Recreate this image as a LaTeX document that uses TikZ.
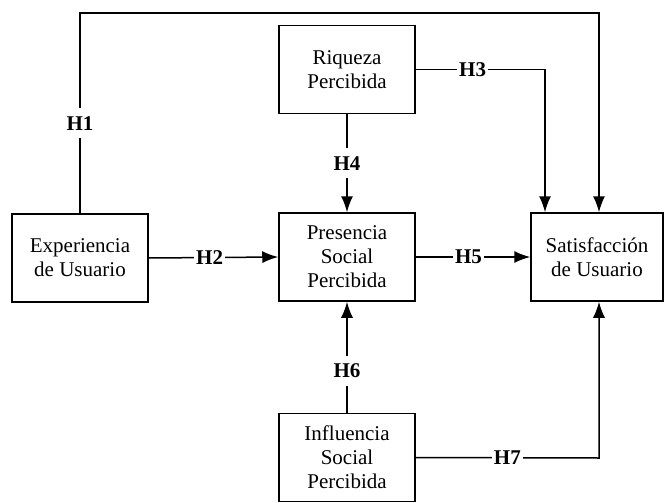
\documentclass[tikz,border=0pt]{standalone}
\usepackage{fontspec}
\setmainfont{Liberation Serif}
\usetikzlibrary{arrows.meta,positioning}
\tikzset{>={Latex[length=8pt,width=6pt]}}
\tikzset{caja/.style={draw, line width=0.75pt, minimum width=68pt,
    minimum height=44pt, align=center, inner sep=0pt,
    font=\fontsize{10.5}{12}\selectfont}}
\tikzset{hip/.style={fill=white, inner xsep=1pt, inner ysep=4pt,
    font=\fontsize{10.5}{12}\selectfont\bfseries}}
\tikzset{flecha/.style={->, line width=0.75pt}}

\begin{document}
\begin{tikzpicture}[x=0.5pt, y=-0.5pt]
  \useasboundingbox (0,0) rectangle (664,503);
  \node[caja] (riq) at (347,69.5) {Riqueza\\Percibida}; %
  \node[caja] (exp) at (80,258) {Experiencia\\de Usuario}; %
  \node[caja] (pre) at (347,257) {Presencia\\Social\\Percibida}; %
  \node[caja, minimum width=66pt] (sat) at (597,257) {Satisfacción\\de Usuario}; %
  \node[caja] (inf) at (347,457.5) {Influencia\\Social\\Percibida}; %
  \coordinate (h1a) at (80,13); %
  \coordinate (h1b) at (599,13); %
  \coordinate (h3) at (545,69.5); %
  \coordinate (h7) at (599,458); %
  \draw[flecha] (exp.north) -- node[hip, pos=0.45]{H1} (h1a) -- (h1b) -- (h1b |- sat.north); %
  \draw[flecha] (exp.east) -- node[hip, pos=0.47]{H2} (pre.west); %
  \draw[flecha] (riq.east) -- node[hip, pos=0.44]{H3} (h3) -- (h3 |- sat.north); %
  \draw[flecha] (riq.south) -- node[hip]{H4} (pre.north); %
  \draw[flecha] (pre.east) -- node[hip, pos=0.46]{H5} (sat.west); %
  \draw[flecha] (inf.north) -- node[hip, pos=0.38]{H6} (pre.south); %
  \draw[flecha] (inf.east) -- node[hip]{H7} (h7) -- (h7 |- sat.south); %
\end{tikzpicture}
\end{document}
